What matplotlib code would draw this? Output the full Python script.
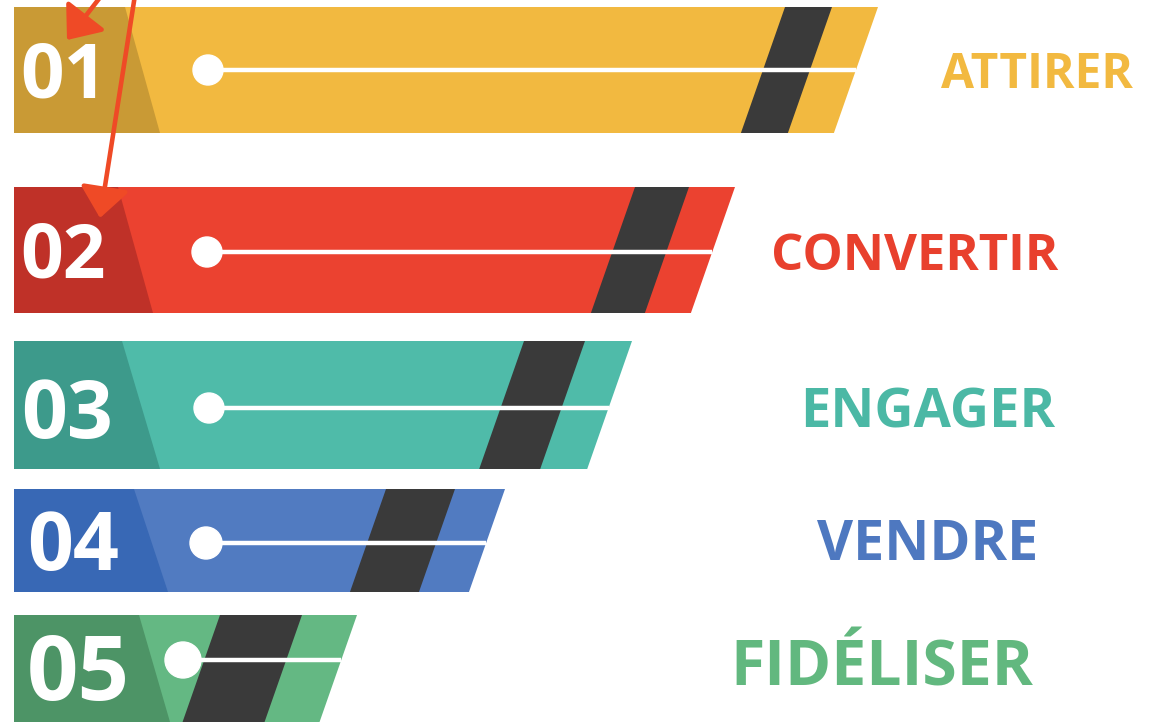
import matplotlib
matplotlib.use("Agg")
import matplotlib.pyplot as plt
from matplotlib.patches import Polygon, Circle

# ---------------------------------------------------------------------------
# Funnel steps (top to bottom)
# ---------------------------------------------------------------------------
numbers = ["01", "02", "03", "04", "05"]
labels = ["ATTIRER", "CONVERTIR", "ENGAGER", "VENDRE", "FIDÉLISER"]
bar_length = [878, 735, 632, 505, 357]          # right end of each band (top edge)
main_colors = ["#F2B940", "#EB4230", "#4FBBA9", "#517BC1", "#64B883"]
dark_colors = ["#C99A35", "#BF3128", "#3D9A8B", "#3868B5", "#4D9466"]
text_colors = ["#F2B940", "#E8402D", "#4BB8A5", "#4E78C0", "#62B87F"]

# layout of each band (pixel coordinates, y grows downward)
band_top = [7, 187, 341, 489, 615]
band_bot = [133, 313, 469, 592, 722]
line_y = [70, 252, 408, 543, 660]
dot_x = [208, 207, 209, 206, 183]
dot_r = [15, 15, 15, 16, 18]
dark_top = [125, 118, 122, 134, 139]
dark_bot = [160, 153, 160, 168, 170]
stripe_x = [785, 635, 524, 386, 220]
stripe_w = [47, 54, 61, 69, 82]
num_x = [20, 20, 21, 27, 27]
num_base = [98, 278, 438, 570, 700]
num_size = [55, 54, 58, 58, 65]
lab_cx = [1037, 915, 928, 928, 882]
lab_base = [88, 270, 427, 560, 685]
lab_size = [34.5, 36.5, 39, 40, 45]

SLOPE = 0.35
LEFT = 14
STRIPE = "#3A3A3A"
ARROW = "#EF4A26"

fig = plt.figure(figsize=(11.65, 7.22), dpi=100)
ax = fig.add_axes([0, 0, 1, 1])
ax.set_xlim(0, 1165)
ax.set_ylim(722, 0)
ax.axis("off")

for i in range(len(numbers)):
    t, b = band_top[i], band_bot[i]
    h = b - t
    rt = bar_length[i]
    rb = rt - SLOPE * h

    # main band
    ax.add_patch(Polygon([(LEFT, t), (rt, t), (rb, b), (LEFT, b)],
                         closed=True, color=main_colors[i], lw=0))
    # darker number block on the left
    ax.add_patch(Polygon([(LEFT, t), (dark_top[i], t), (dark_bot[i], b), (LEFT, b)],
                         closed=True, color=dark_colors[i], lw=0))
    # dark slanted stripe
    s0 = stripe_x[i]
    s1 = s0 + stripe_w[i]
    ax.add_patch(Polygon([(s0, t), (s1, t), (s1 - SLOPE * h, b), (s0 - SLOPE * h, b)],
                         closed=True, color=STRIPE, lw=0))
    # white track + dot
    x_end = rt - SLOPE * (line_y[i] - t)
    ax.plot([dot_x[i], x_end], [line_y[i], line_y[i]], color="white", lw=3.2,
            solid_capstyle="butt", zorder=3)
    ax.add_patch(Circle((dot_x[i], line_y[i]), dot_r[i], color="white", zorder=4))

    ax.text(num_x[i], num_base[i], numbers[i], color="white", fontsize=num_size[i],
            fontweight="bold", family="Open Sans", ha="left", va="baseline", zorder=5)
    ax.text(lab_cx[i], lab_base[i], labels[i], color=text_colors[i], fontsize=lab_size[i],
            fontweight="bold", family="Open Sans", ha="center", va="baseline")

# hand-drawn red arrows
head = "-|>,head_length=0.32,head_width=0.26"
ax.annotate("", xy=(67, 40), xytext=(112, -18),
            arrowprops=dict(arrowstyle=head, color=ARROW, lw=3.3, mutation_scale=58,
                            shrinkA=0, shrinkB=0))
ax.annotate("", xy=(100, 218), xytext=(135, -5),
            arrowprops=dict(arrowstyle=head, color=ARROW, lw=3.3, mutation_scale=58,
                            shrinkA=0, shrinkB=0))

fig.savefig("out.png", dpi=100)
plt.close(fig)
